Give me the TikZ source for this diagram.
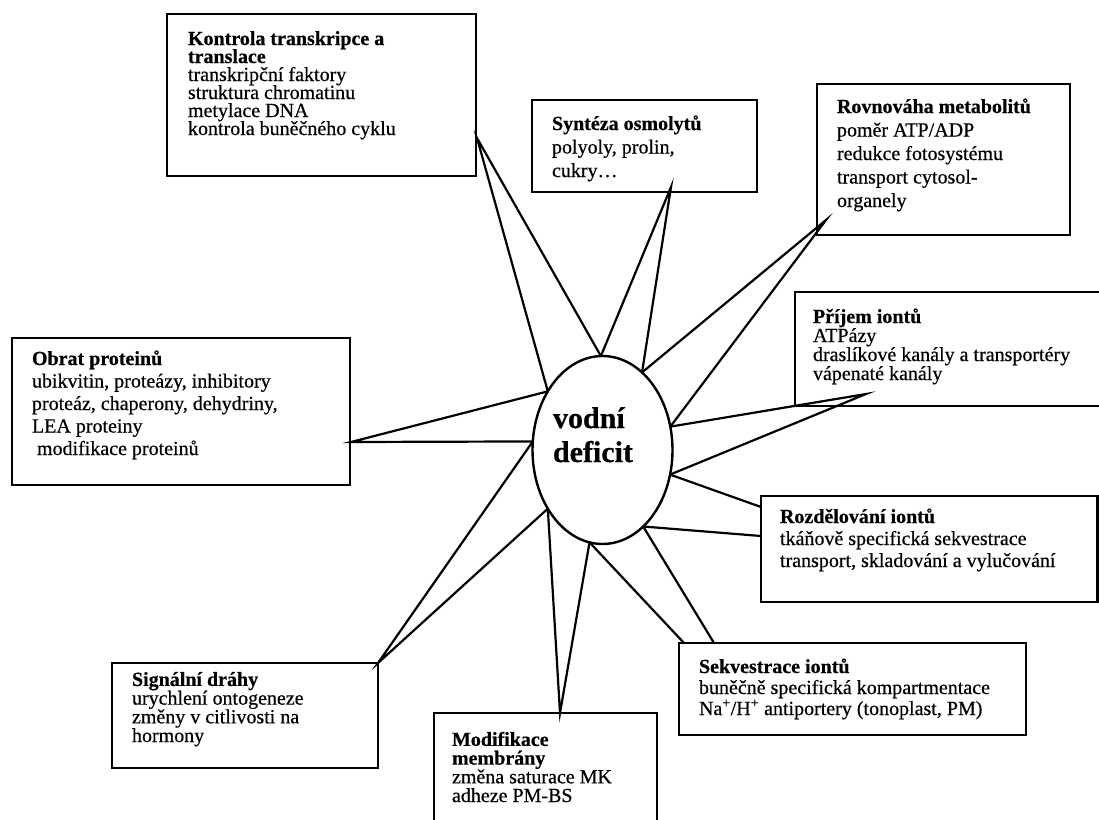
\documentclass[tikz,border=0pt]{standalone}
\usepackage{fontspec}
\setmainfont{Liberation Serif}[FakeBold=0.5]
\usetikzlibrary{shapes.geometric}
\newcommand\boxfont[1]{\fontsize{20pt}{#1pt}\selectfont\lineskiplimit=-40pt\relax}
\begin{document}
\begin{tikzpicture}[x=1pt,y=-1pt,
  box/.style={draw,line width=2.4pt,fill=white,anchor=north west,inner sep=0pt,outer sep=0pt},
  % base anchor of a multi-line node = baseline of its last line
  txt/.style={anchor=base west,inner sep=0pt,outer sep=0pt,align=left},
  spike/.style={line width=2.2pt,line join=miter},
]
\useasboundingbox (0,0) rectangle (1099,819);
\clip (0,0) rectangle (1099,819);

% boxes
\node[box,minimum width=309,minimum height=162] (b1) at (167,14) {};
\node[box,minimum width=225,minimum height=92] (b2) at (532,100) {};
\node[box,minimum width=253,minimum height=151] (b3) at (817,84) {};
\node[box,minimum width=320,minimum height=114] (b4) at (795,292) {};
\node[box,minimum width=338,minimum height=147] (b5) at (12,338) {};
\node[box,minimum width=336.5,minimum height=106] (b6) at (761,496) {};
\node[box,minimum width=347,minimum height=92] (b7) at (679,643) {};
\node[box,minimum width=266,minimum height=105] (b8) at (112,663) {};
\node[box,minimum width=223,minimum height=130] (b9) at (434,713) {};

% texts (positioned at the baseline of the last line)
\node[txt,font=\boxfont{18}] (t1) at (188,135) {\textbf{Kontrola transkripce a}\\\textbf{translace}\\transkripční faktory\\struktura chromatinu\\metylace DNA\\kontrola buněčného cyklu};
\node[txt,font=\boxfont{23.5}] (t2) at (552,177) {\textbf{Syntéza osmolytů}\\polyoly, prolin,\\cukry…};
\node[txt,font=\boxfont{23.5}] (t3) at (837,207) {\textbf{Rovnováha metabolitů}\\poměr ATP/ADP\\redukce fotosystému\\transport cytosol-\\organely};
\node[txt,font=\boxfont{19}] (t4) at (813,380) {\textbf{Příjem iontů}\\ATPázy\\draslíkové kanály a transportéry\\vápenaté kanály};
\node[txt,font=\boxfont{22.5}] (t5) at (32,455) {\textbf{Obrat proteinů}\\ubikvitin, proteázy, inhibitory\\proteáz, chaperony, dehydriny,\\LEA proteiny\\\hspace*{5pt}modifikace proteinů};
\node[txt,font=\boxfont{22}] (t6) at (780,567) {\textbf{Rozdělování iontů}\\tkáňově specifická sekvestrace\\transport, skladování a vylučování};
\node[txt,font=\boxfont{21}] (t7) at (699,715) {\textbf{Sekvestrace iontů}\\buněčně specifická kompartmentace\\Na\textsuperscript{+}/H\textsuperscript{+} antiportery (tonoplast, PM)};
\node[txt,font=\boxfont{18.7}] (t8) at (132,742) {\textbf{Signální dráhy}\\urychlení ontogeneze\\změny v citlivosti na\\hormony};
\node[txt,font=\boxfont{18.7}] (t9) at (452,802) {\textbf{Modifikace}\\\textbf{membrány}\\změna saturace MK\\adheze PM-BS};

% centre
\node[ellipse,draw,line width=2.4pt,fill=white,minimum width=140,minimum height=188,inner sep=0pt,outer sep=0pt] (e) at (602.5,450) {};
\node[txt,font=\fontsize{30pt}{34pt}\selectfont\bfseries] (et) at (553,462) {vodní\\deficit};

% spike tips
\coordinate (k1) at (477,138);
\coordinate (k2) at (671,187);
\coordinate (k3) at (826,220);
\coordinate (k4) at (866,394);
\coordinate (k6a) at (761,507);
\coordinate (k6b) at (761,536);
\coordinate (k7a) at (684,643);
\coordinate (k7b) at (714,643);
\coordinate (k9) at (560,713);
\coordinate (k5) at (351,442);

\draw[spike] (e.133) -- (k1) -- (e.91);
\draw[spike] (e.91) -- (k2) -- (e.63);
\draw[spike] (e.63) -- (k3) -- (e.19.5);
\draw[spike] (e.19.5) -- (k4) -- (e.-20);
\draw[spike] (e.-20) -- (k6a);
\draw[spike] (e.-62) -- (k6b);
\draw[spike] (e.-62) -- (k7b);
\draw[spike] (e.-98) -- (k7a);
\draw[spike] (e.-98) -- (k9) -- (e.-133);
\draw[spike] (e.-133) -- (b8.north east) -- (e.173.5);
\draw[spike] (e.173.5) -- (k5) -- (e.133);
\end{tikzpicture}
\end{document}
